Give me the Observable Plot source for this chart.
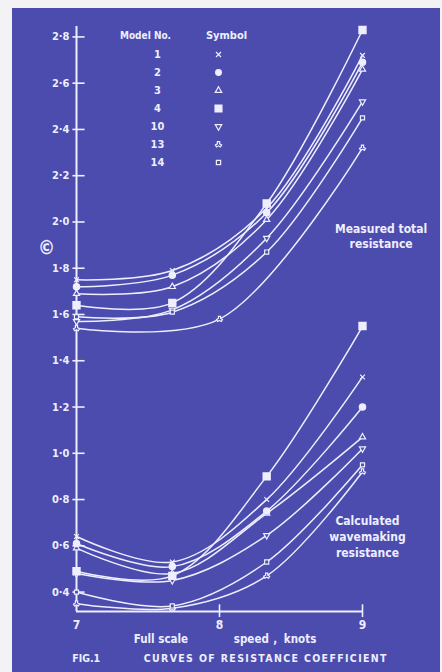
<!DOCTYPE html>
<html><head><meta charset="utf-8">
<script src="https://cdn.jsdelivr.net/npm/d3@7"></script>
<script src="https://cdn.jsdelivr.net/npm/@observablehq/plot@0.6"></script>
<style>
html,body{margin:0;padding:0;background:#f3f3f5;}
#wrap{position:relative;width:442px;height:672px;overflow:hidden;}
#panel{position:absolute;left:12px;top:8px;width:428px;height:664px;background:#4b4cae;}
#chart{position:absolute;left:0;top:0;}
#legend{position:absolute;left:100px;top:20px;}
svg text{font-family:"DejaVu Sans Condensed","DejaVu Sans",sans-serif;font-weight:bold;}
</style></head><body>
<div id="wrap"><div id="panel"></div><div id="chart"></div><div id="legend"></div></div>
<script>
// ---- data ----
const models = ["1", "2", "3", "4", "10", "13", "14"];
const speeds = [7, 7.67, 8.33, 9];
const speedsTotal13 = [7, 8, 9];

// measured total resistance coefficient
const total1  = [1.75, 1.79, 2.06, 2.72];
const total2  = [1.72, 1.77, 2.04, 2.69];
const total3  = [1.69, 1.72, 2.01, 2.66];
const total4  = [1.64, 1.65, 2.08, 2.83];
const total10 = [1.57, 1.62, 1.93, 2.52];
const total13 = [1.54, 1.58, 2.32];
const total14 = [1.59, 1.61, 1.87, 2.45];

// calculated wavemaking resistance coefficient
const wave1  = [0.64, 0.53, 0.80, 1.33];
const wave2  = [0.61, 0.51, 0.75, 1.20];
const wave3  = [0.59, 0.48, 0.74, 1.07];
const wave4  = [0.49, 0.47, 0.90, 1.55];
const wave10 = [0.48, 0.45, 0.645, 1.02];
const wave13 = [0.35, 0.33, 0.47, 0.92];
const wave14 = [0.40, 0.34, 0.53, 0.95];

const yTicks = [0.4, 0.6, 0.8, 1.0, 1.2, 1.4, 1.6, 1.8, 2.0, 2.2, 2.4, 2.6, 2.8];
const xTicks = [7, 8, 9];

// ---- styles ----
const ink = "#eeeeff";
const bg = "#4b4cae";
const symbolRange = ["times", "circle", "triangle", "square", "triangle", "wye", "square"];
const filled = new Set(["2", "4"]);
const flipped = new Set(["10", "13"]);

const totalVals = [total1, total2, total3, total4, total10, total13, total14];
const totalSp = [speeds, speeds, speeds, speeds, speeds, speedsTotal13, speeds];
const waveVals = [wave1, wave2, wave3, wave4, wave10, wave13, wave14];

const totalRows = models.flatMap((m, i) => totalVals[i].map((v, j) => ({model: m, speed: totalSp[i][j], value: v})));
const waveRows = models.flatMap((m, i) => waveVals[i].map((v, j) => ({model: m, speed: speeds[j], value: v})));
const allRows = totalRows.concat(waveRows);

const fmt = d => d.toFixed(1).replace(".", "·");

const chart = Plot.plot({
  width: 442, height: 672,
  marginLeft: 76, marginRight: 80, marginTop: 26, marginBottom: 61,
  x: {domain: [7, 9], axis: null},
  y: {domain: [0.316, 2.845], axis: null},
  symbol: {domain: models, range: symbolRange},
  style: {background: "transparent", overflow: "visible", color: ink},
  marks: [
    Plot.ruleX([7], {stroke: ink, strokeWidth: 2}),
    Plot.ruleY([0.316], {x1: 7, x2: 9, stroke: ink, strokeWidth: 2}),
    Plot.ruleY(yTicks, {x1: 6.975, x2: 7.06, stroke: ink, strokeWidth: 1.6}),
    Plot.ruleX(xTicks.slice(1), {y1: 0.29, y2: 0.345, stroke: ink, strokeWidth: 1.6}),
    Plot.axisY(yTicks, {tickSize: 0, tickPadding: 7, tickFormat: fmt, fontSize: 11, color: ink, label: null}),
    Plot.axisX(xTicks, {tickSize: 0, tickPadding: 9, tickFormat: d => String(d), fontSize: 12, color: ink, label: null}),
    Plot.line(totalRows, {x: "speed", y: "value", z: "model", curve: "catmull-rom", stroke: ink, strokeWidth: 1.5}),
    Plot.line(waveRows, {x: "speed", y: "value", z: "model", curve: "catmull-rom", stroke: ink, strokeWidth: 1.5}),
    Plot.dot(allRows.filter(d => !filled.has(d.model)), {x: "speed", y: "value", symbol: "model", r: 2.3, fill: bg, stroke: ink, strokeWidth: 1.2, rotate: d => flipped.has(d.model) ? 180 : 0}),
    Plot.dot(allRows.filter(d => filled.has(d.model)), {x: "speed", y: "value", symbol: "model", r: d => d.model === "4" ? 3 : 1.8, fill: ink, stroke: ink}),
    Plot.text(["Measured total\nresistance"], {x: 9.13, y: 1.94, fontSize: 12, lineHeight: 1.25, fill: ink}),
    Plot.text(["Calculated\nwavemaking\nresistance"], {x: 9.035, y: 0.644, fontSize: 12, lineHeight: 1.35, fill: ink}),
    Plot.text(["©"], {x: 6.79, y: 1.89, fontSize: 19, fontWeight: "normal", fill: ink}),
    Plot.text(["Full scale"], {x: 7.40, y: 0.195, textAnchor: "start", fontSize: 11.5, fill: ink}),
    Plot.text(["speed"], {x: 8.10, y: 0.195, textAnchor: "start", fontSize: 11.5, fill: ink}),
    Plot.text([","], {x: 8.375, y: 0.195, textAnchor: "start", fontSize: 11.5, fill: ink}),
    Plot.text(["knots"], {x: 8.45, y: 0.195, textAnchor: "start", fontSize: 11.5, fill: ink}),
    Plot.text(["FIG.1"], {x: 6.97, y: 0.113, textAnchor: "start", fontSize: 10.5, fill: ink}),
    Plot.text(["CURVES OF RESISTANCE COEFFICIENT"], {x: 7.47, y: 0.113, textAnchor: "start", fontSize: 10.5, fill: ink})
  ]
});
// widen the caption lettering like the original typewritten caption
d3.select(chart).selectAll("text")
  .filter(function() { return this.textContent.startsWith("CURVES"); })
  .attr("letter-spacing", 1.35);
document.getElementById("chart").append(chart);

const legend = Plot.plot({
  width: 160, height: 160, margin: 0,
  x: {type: "point", domain: ["num", "sym"], range: [57, 118], padding: 0, axis: null},
  y: {type: "point", domain: models, range: [33, 143], padding: 0, axis: null},
  symbol: {domain: models, range: symbolRange},
  style: {background: "transparent", overflow: "visible", color: ink},
  marks: [
    Plot.text(["Model No."], {frameAnchor: "top-left", dx: 45, dy: 15, textAnchor: "middle", lineAnchor: "middle", fontSize: 10, fill: ink}),
    Plot.text(["Symbol"], {frameAnchor: "top-left", dx: 126, dy: 15, textAnchor: "middle", lineAnchor: "middle", fontSize: 11, fill: ink}),
    Plot.text(models, {x: () => "num", y: d => d, text: d => d, fontSize: 11, fill: ink}),
    Plot.dot(models.filter(m => !filled.has(m)), {x: () => "sym", y: d => d, symbol: d => d, r: 2.4, fill: bg, stroke: ink, strokeWidth: 1.2, rotate: d => flipped.has(d) ? 180 : 0}),
    Plot.dot(models.filter(m => filled.has(m)), {x: () => "sym", y: d => d, symbol: d => d, r: d => d === "4" ? 2.8 : 1.5, fill: ink, stroke: ink})
  ]
});
document.getElementById("legend").append(legend);
</script></body></html>
